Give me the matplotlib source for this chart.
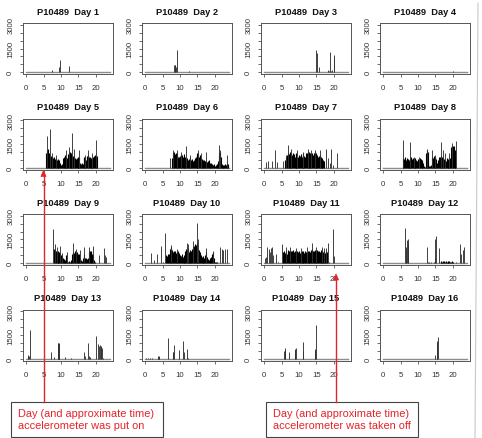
import matplotlib
matplotlib.use('Agg')
import matplotlib.pyplot as plt
import numpy as np
from matplotlib.patches import Rectangle, Polygon
from matplotlib.lines import Line2D

# ---------------- data (hour of day, activity count) ----------------
subject = "P10489"
day_numbers = list(range(1, 17))
x_ticks = [0, 5, 10, 15, 20]
y_ticks = [0, 500, 1000, 1500, 2000, 2500, 3000]
y_tick_labels = ["0", "", "", "1500", "", "", "3000"]

# dense 15-minute activity blocks: start hour + values
d5_start = 5.75
d5_block = [900, 1100, 1200, 900, 700, 750, 650, 700, 600, 650, 550, 600, 500, 550, 450, 500,
            300, 150, 200, 600, 700, 800, 650, 700, 600, 850, 900, 1000, 800, 900, 700, 750,
            650, 600, 550, 600, 500, 700, 650, 300, 250, 300, 200, 600, 700, 650, 500, 750,
            800, 700, 650, 550, 600, 500, 650, 750, 800, 700, 750]
d6_start = 7.75
d6_block = [600, 900, 1000, 850, 950, 800, 900, 700, 650, 750, 850, 800, 700, 850, 600, 700,
            550, 600, 500, 550, 450, 600, 500, 550, 450, 500, 600, 700, 800, 900, 850, 700,
            800, 600, 550, 500, 450, 500, 400, 450, 350, 400, 500, 300, 250, 300, 200, 150,
            200, 100, 150, 250, 200, 400, 900, 1000, 700, 200, 150, 100, 150, 200, 150, 300, 250]
d7_start = 6.0
d7_block = [500, 700, 800, 900, 850, 1000, 900, 950, 800, 900, 850, 700, 950, 800, 600, 700,
            800, 750, 850, 700, 900, 800, 750, 650, 900, 950, 1000, 900, 1000, 950, 850, 900,
            800, 950, 1000, 850, 900, 800, 700, 750, 800, 650, 600, 550, 500, 400]
d8_start = 5.75
d8_block = [600, 550, 650, 500, 600, 550, 450, 500, 600, 650, 550, 600, 500, 550, 600, 500,
            450, 550, 500, 600, 550, 500, 450, 300, 100, 50, 900, 1100, 1000, 200, 100, 80,
            150, 700, 600, 750, 650, 700, 550, 300, 500, 700, 650, 750, 600, 700, 600, 550,
            500, 450, 600, 550, 500, 400, 600, 1300, 1400, 1350, 1400, 1100, 700]
d9_start = 8.0
d9_block = [900, 850, 800, 700, 750, 650, 700, 600, 500, 450, 300, 250, 200, 150, 500, 150,
            100, 150, 100, 150, 200, 600, 700, 650, 750, 600, 700, 550, 400, 600, 300, 200,
            150, 300, 600, 400, 300, 350, 250, 300, 700, 800, 750, 700, 600, 500, 200, 100]
d10_start = 6.0
d10_block = [500, 450, 600, 550, 900, 1000, 950, 850, 700, 800, 750, 650, 700, 600, 750, 650,
             500, 450, 600, 400, 300, 500, 800, 900, 850, 950, 700, 800, 850, 750, 900, 1000,
             1100, 1200, 1150, 1300, 1000, 900, 850, 700, 500, 400, 350, 450, 300, 500, 700, 400,
             250, 200, 300, 200, 400, 600, 700, 300, 100, 80, 100]
d11_start = 5.5
d11_block = [700, 800, 650, 750, 600, 850, 800, 700, 850, 800, 750, 850, 700, 800, 750, 650,
             800, 700, 750, 650, 700, 800, 750, 700, 650, 800, 700, 600, 750, 650, 800, 700,
             850, 900, 800, 750, 850, 800, 700, 850, 750, 800, 700, 850, 650, 800, 700, 750,
             650, 800, 700]
d12_start = 16.5
d12_block = [100, 120, 90, 110, 130, 100, 120, 90, 110, 100, 120, 100, 90, 110, 100]

# isolated spikes: (hour, count)
d1_peaks = [(7.5, 150), (9.5, 300), (9.7, 800), (12.2, 380)]
d2_peaks = [(8.2, 420), (8.4, 450), (8.6, 480), (8.8, 350), (9.0, 1400), (12.5, 40)]
d3_peaks = [(15.0, 1400), (15.1, 1200), (15.7, 350), (18.3, 130), (18.6, 100), (19.0, 1300),
            (19.3, 100), (19.6, 120), (20.0, 900), (20.2, 1100)]
d4_peaks = [(8.0, 20), (20.2, 60)]
d5_peaks = [(6.0, 2000), (6.7, 2450), (7.5, 900), (8.5, 800), (11.3, 1100), (12.4, 1300),
            (13.2, 2200), (13.6, 1200), (15.1, 1100), (16.8, 800), (17.9, 1100), (19.0, 900),
            (20.2, 1750)]
d6_peaks = [(7.2, 600), (8.1, 1150), (9.0, 1150), (10.3, 1000), (11.7, 1400), (13.0, 800),
            (15.3, 1150), (16.0, 900), (17.6, 1000), (21.3, 1450), (21.6, 1100), (23.6, 800)]
d7_peaks = [(0.5, 380), (1.1, 400), (2.1, 420), (3.2, 1100), (3.7, 350), (5.3, 450), (6.3, 800),
            (6.8, 1430), (7.8, 1200), (9.5, 1150), (11.0, 1000), (12.6, 1200), (13.3, 1150),
            (14.5, 1150), (16.0, 1100), (17.8, 1200), (18.3, 600), (18.8, 300), (19.3, 1200),
            (19.7, 150), (21.0, 900)]
d8_peaks = [(5.6, 1750), (7.75, 1600), (8.7, 700), (10.4, 650), (12.6, 1200), (14.0, 1150),
            (15.0, 800), (16.5, 1650), (17.2, 1100), (17.9, 900), (19.0, 900), (19.9, 1550),
            (20.8, 1700)]
d9_peaks = [(7.6, 2150), (8.2, 1200), (8.9, 1050), (9.6, 1100), (10.3, 650), (11.6, 700),
            (13.3, 1280), (14.3, 900), (15.4, 850), (16.5, 1050), (18.0, 1000), (19.3, 1100),
            (20.9, 500), (22.5, 950), (22.8, 500), (23.0, 400)]
d10_peaks = [(1.5, 650), (2.6, 200), (3.4, 600), (4.4, 1100), (5.0, 100), (5.8, 1900),
             (7.4, 1150), (9.0, 900), (11.9, 1300), (12.3, 1200), (13.6, 1400), (14.8, 2550),
             (15.2, 1500), (17.5, 950), (19.5, 800), (21.5, 1000), (22.1, 900), (22.5, 850),
             (23.0, 900), (23.5, 900)]
d11_peaks = [(0.2, 350), (0.4, 400), (0.9, 1050), (1.2, 900), (1.5, 700), (1.8, 950), (2.2, 1000),
             (2.5, 500), (3.5, 600), (4.0, 100), (5.0, 1200), (6.3, 1000), (7.5, 1000),
             (9.0, 950), (10.5, 950), (12.2, 1000), (13.8, 1250), (15.0, 1000), (16.5, 1050),
             (17.2, 950), (17.8, 950), (18.3, 1250), (18.7, 100), (19.8, 2150), (20.1, 450)]
d12_peaks = [(6.3, 2250), (6.5, 1000), (6.6, 900), (6.9, 1450), (7.0, 1300), (7.2, 1500),
             (12.6, 1000), (12.8, 100), (13.2, 60), (13.8, 60), (14.5, 80), (14.8, 300),
             (15.0, 1500), (15.1, 1700), (16.0, 950), (21.0, 50), (22.1, 1200), (22.5, 550),
             (22.9, 850), (23.3, 1050)]
d13_peaks = [(0.4, 200), (0.6, 180), (0.8, 150), (1.0, 1800), (5.0, 40), (7.0, 400), (8.0, 80),
             (9.0, 1000), (9.1, 950), (9.2, 1000), (9.3, 900), (9.4, 1000), (9.5, 700),
             (11.2, 100), (13.0, 60), (16.7, 400), (17.0, 150), (17.8, 1000), (18.0, 150),
             (18.2, 120), (20.2, 1450), (20.6, 950), (21.0, 800), (21.2, 850), (21.4, 800),
             (21.6, 750), (21.8, 700), (22.0, 60)]
d14_peaks = [(0.2, 50), (0.8, 40), (1.2, 60), (1.8, 50), (3.6, 150), (3.7, 130), (3.8, 160),
             (3.9, 120), (6.4, 1300), (8.0, 450), (8.1, 400), (8.3, 850), (9.7, 550),
             (10.8, 1150), (11.0, 450), (12.0, 600), (12.3, 50)]
d15_peaks = [(5.8, 500), (5.9, 550), (6.0, 700), (7.0, 450), (8.7, 600), (8.9, 550), (9.0, 650),
             (11.0, 1050), (11.1, 450), (14.5, 600), (14.7, 550), (14.8, 2150)]
d16_peaks = [(15.0, 250), (15.4, 1000), (15.5, 1100), (15.6, 1350)]

note_on = "Day (and approximate time)\naccelerometer was put on"
note_off = "Day (and approximate time)\naccelerometer was taken off"

blocks = {5: (d5_start, d5_block), 6: (d6_start, d6_block), 7: (d7_start, d7_block),
          8: (d8_start, d8_block), 9: (d9_start, d9_block), 10: (d10_start, d10_block),
          11: (d11_start, d11_block), 12: (d12_start, d12_block)}
peaks = [d1_peaks, d2_peaks, d3_peaks, d4_peaks, d5_peaks, d6_peaks, d7_peaks, d8_peaks,
         d9_peaks, d10_peaks, d11_peaks, d12_peaks, d13_peaks, d14_peaks, d15_peaks, d16_peaks]

# ---------------- figure ----------------
plt.rcParams['font.family'] = ['Liberation Sans', 'DejaVu Sans']
W, H = 482, 439
fig = plt.figure(figsize=(W / 100, H / 100), dpi=100)
fig.patch.set_facecolor('white')

col_left = [23, 142, 261, 380]
row_top = [24, 119.5, 215, 310.5]
bw, bh = 90, 51
axc = '#555555'

for i, day in enumerate(day_numbers):
    r, c = divmod(i, 4)
    ax = fig.add_axes([col_left[c] / W, 1 - (row_top[r] + bh) / H, bw / W, bh / H])
    ax.set_xlim(-0.96, 24.96)
    ax.set_ylim(-120, 3120)
    ax.plot([0, 24], [0, 0], color='#8c8c8c', lw=1.0, zorder=1)
    if day in blocks:
        st, blk = blocks[day]
        hrs = st + 0.25 * np.arange(len(blk))
        ax.vlines(hrs, 0, blk, color='black', lw=0.8, zorder=2)
    ph = [p[0] for p in peaks[i]]
    pv = [p[1] for p in peaks[i]]
    ax.vlines(ph, 0, pv, color='#333333', lw=0.65, zorder=3)
    ax.set_xticks(x_ticks)
    ax.set_xticklabels([str(t) for t in x_ticks])
    ax.set_yticks(y_ticks)
    ax.set_yticklabels(y_tick_labels, rotation=90, va='center')
    ax.tick_params(axis='both', direction='out', length=2.3, width=0.6, colors=axc,
                   labelsize=5.6, labelcolor='#333333')
    ax.tick_params(axis='x', pad=5.0)
    ax.tick_params(axis='y', pad=4.0)
    for s in ax.spines.values():
        s.set_color(axc)
        s.set_linewidth(0.7)
    ax.set_title(f"{subject}  Day {day}", fontsize=6.7, fontweight='bold', pad=6.5,
                 color='#111111')

red = '#e5242a'

def fx(px):
    return px / W

def fy(py):
    return 1 - py / H

# annotation boxes
for (x0, x1) in [(11, 163), (266, 418)]:
    fig.add_artist(Rectangle((fx(x0), fy(438)), fx(x1 - x0), (438 - 403) / H,
                             transform=fig.transFigure, fill=False, edgecolor='#444444',
                             lw=0.8, zorder=10))
fig.text(fx(18), fy(420), note_on, color=red, fontsize=7.9, ha='left', va='center',
         linespacing=1.2, zorder=11)
fig.text(fx(273), fy(420), note_off, color=red, fontsize=7.9, ha='left', va='center',
         linespacing=1.2, zorder=11)

# red arrows
for (xa, ytip) in [(43.5, 171.5), (336, 275)]:
    fig.add_artist(Line2D([fx(xa), fx(xa)], [fy(403), fy(ytip + 5)], transform=fig.transFigure,
                          color=red, lw=1.0, zorder=12))
    fig.add_artist(Polygon([(fx(xa), fy(ytip)), (fx(xa - 2.6), fy(ytip + 6)),
                            (fx(xa + 2.6), fy(ytip + 6))], closed=True,
                           transform=fig.transFigure, facecolor=red, edgecolor=red, lw=0.5,
                           zorder=12))

# light outer frame on the right
fig.add_artist(Line2D([fx(478), fx(475)], [fy(4), fy(439)], transform=fig.transFigure,
                      color='#c8c8c8', lw=0.8, zorder=1))

fig.savefig('out.png', dpi=100)
